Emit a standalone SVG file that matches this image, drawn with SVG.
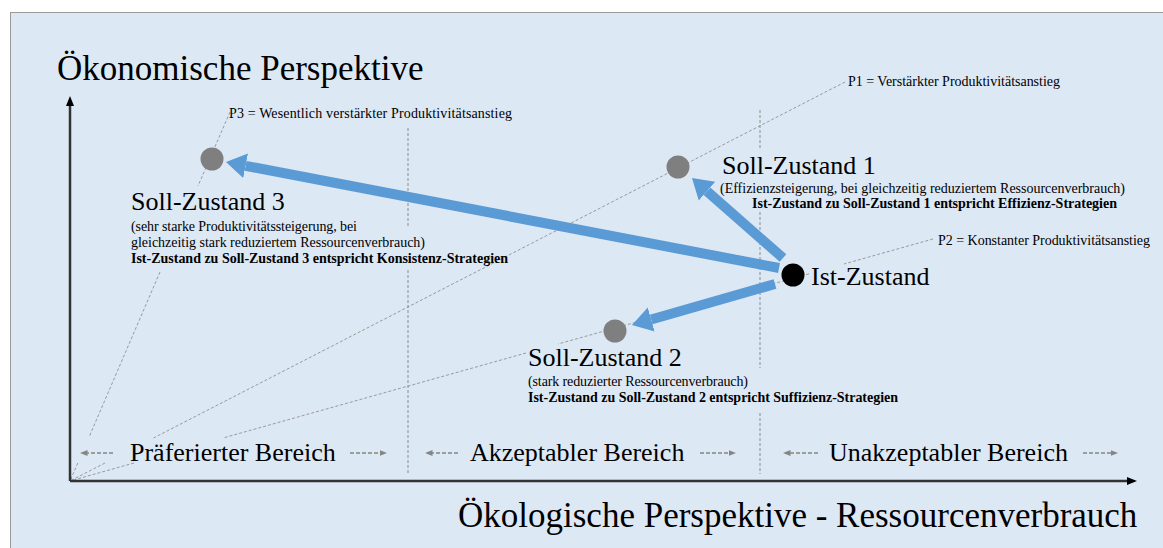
<svg xmlns="http://www.w3.org/2000/svg" width="1163" height="548" viewBox="0 0 1163 548">
<defs>
<style>
.t{font-family:"Liberation Serif","Times New Roman",serif;fill:#000}
.big{font-size:35px}
.mid{font-size:26px}
.sm{font-size:14px}
.b{font-weight:bold}
.dash{stroke:#9a9a9a;stroke-width:1;stroke-dasharray:3 2;fill:none}
.vd{stroke:#8c8c8c;stroke-width:1;stroke-dasharray:3 2;fill:none}
.ga{stroke:#858585;stroke-width:1.5;stroke-dasharray:4 2;fill:none;marker-end:url(#gh)}
.blue{stroke:#5b9bd5;stroke-width:10;fill:none;marker-end:url(#bh)}
.axis{stroke:#333;stroke-width:2.5;fill:none;marker-end:url(#ah)}
</style>
<marker id="bh" viewBox="0 0 8 10" markerWidth="2" markerHeight="2.6" refX="0" refY="5" orient="auto" markerUnits="strokeWidth">
<path d="M0,0 L8,5 L0,10 z" fill="#5b9bd5"/>
</marker>
<marker id="ah" viewBox="0 0 10 8" markerWidth="4" markerHeight="3.2" refX="2" refY="4" orient="auto" markerUnits="strokeWidth">
<path d="M0,0 L10,4 L0,8 z" fill="#000"/>
</marker>
<marker id="gh" viewBox="0 0 10 8" markerWidth="5" markerHeight="4" refX="2" refY="4" orient="auto" markerUnits="strokeWidth">
<path d="M0,0 L10,4 L0,8 z" fill="#858585"/>
</marker>
</defs>
<rect x="0" y="0" width="1163" height="548" fill="#fff"/>
<rect x="10.5" y="12.5" width="1200" height="600" fill="#dde8f5" stroke="#9a9a9a" stroke-width="1"/>

<g id="guides">
<path class="dash" d="M230,112 L198,186 M160,272 L89.5,436 M77.8,463 L70,481"/>
<path class="dash" d="M845,82 L153.5,438 M105,463 L70,481"/>
<path class="dash" d="M933,239 L844,264 M809,273.8 L558,344 M526,353 L223,438 M134,463 L70,481"/>
<path class="vd" d="M408,128 V228 M408,270 V474"/>
<path class="vd" d="M760,110 V150 M760,212 V368 M760,413 V474"/>
</g>

<g id="axes">
<path class="axis" d="M70,481 V104"/>
<path class="axis" d="M70,481 H1129"/>
</g>

<g id="connectors">
<path class="blue" d="M779,268 L245.6,165.8"/>
<path class="blue" d="M783,258 L707,191.2"/>
<path class="blue" d="M775,284 L651.2,319.5"/>
</g>

<g id="ist">
<circle cx="793" cy="275" r="11.5" fill="#000"/>
<text class="t mid" x="811" y="285">Ist-Zustand</text>
</g>

<g id="soll1">
<circle cx="678" cy="167" r="11.5" fill="#7f7f7f"/>
<text class="t mid" x="722" y="174">Soll-Zustand 1</text>
<text class="t sm" x="720" y="193" textLength="405">(Effizienzsteigerung, bei gleichzeitig reduziertem Ressourcenverbrauch)</text>
<text class="t sm b" x="752" y="208" textLength="365">Ist-Zustand zu Soll-Zustand 1 entspricht Effizienz-Strategien</text>
</g>

<g id="soll2">
<circle cx="615" cy="331" r="11.5" fill="#7f7f7f"/>
<text class="t mid" x="528" y="366">Soll-Zustand 2</text>
<text class="t sm" x="528" y="386" textLength="220">(stark reduzierter Ressourcenverbrauch)</text>
<text class="t sm b" x="528" y="402" textLength="370">Ist-Zustand zu Soll-Zustand 2 entspricht Suffizienz-Strategien</text>
</g>

<g id="soll3">
<circle cx="212" cy="159" r="11.5" fill="#7f7f7f"/>
<text class="t mid" x="131" y="210">Soll-Zustand 3</text>
<text class="t sm" x="131" y="231" textLength="226">(sehr starke Produktivitätssteigerung, bei</text>
<text class="t sm" x="131" y="247" textLength="294">gleichzeitig stark reduziertem Ressourcenverbrauch)</text>
<text class="t sm b" x="131" y="263" textLength="377">Ist-Zustand zu Soll-Zustand 3 entspricht Konsistenz-Strategien</text>
</g>

<g id="labels">
<text class="t big" x="57" y="80">Ökonomische Perspektive</text>
<text class="t big" x="458" y="527">Ökologische Perspektive - Ressourcenverbrauch</text>
<text class="t sm" x="229" y="118" textLength="283">P3 = Wesentlich verstärkter Produktivitätsanstieg</text>
<text class="t sm" x="848" y="86" textLength="212">P1 = Verstärkter Produktivitätsanstieg</text>
<text class="t sm" x="938" y="245" textLength="212">P2 = Konstanter Produktivitätsanstieg</text>
</g>

<g id="bereiche">
<path class="ga" d="M113,453 H86"/>
<text class="t mid" x="130" y="461">Präferierter Bereich</text>
<path class="ga" d="M350,453 H381"/>
<path class="ga" d="M458,453 H431"/>
<text class="t mid" x="470" y="461">Akzeptabler Bereich</text>
<path class="ga" d="M700,453 H730"/>
<path class="ga" d="M818,453 H789"/>
<text class="t mid" x="829" y="461">Unakzeptabler Bereich</text>
<path class="ga" d="M1083,453 H1112"/>
</g>
</svg>
